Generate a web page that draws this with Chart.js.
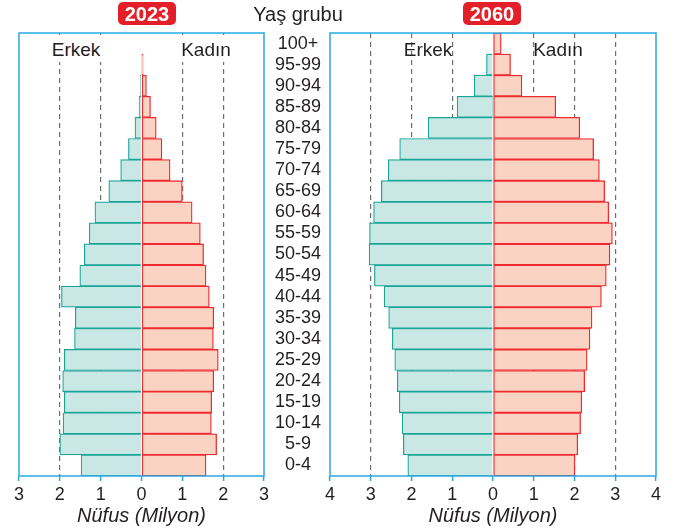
<!DOCTYPE html>
<html lang="tr">
<head>
<meta charset="UTF-8">
<title>Nüfus piramidi 2023 - 2060</title>
<script src="https://cdn.jsdelivr.net/npm/chart.js"></script>
<style>
    body {
        margin: 0;
        background: #fff;
        font-family: "Liberation Sans", Arial, sans-serif;
        color: #231f20;
    }
    #wrap {
        position: relative;
        width: 677px;
        height: 532px;
        overflow: hidden;
    }
    #wrap canvas {
        position: absolute;
        top: 0;
    }
    .badge {
        position: absolute;
        top: 2px;
        width: 58px;
        height: 23px;
        line-height: 24px;
        border-radius: 5px;
        background: #e3202a;
        color: #fff;
        font-weight: bold;
        font-size: 20px;
        text-align: center;
        z-index: 2;
    }
    .txt {
        position: absolute;
        font-size: 19px;
        line-height: 22px;
        z-index: 2;
        text-align: center;
    }
</style>
</head>
<body>
<div id="wrap">
    <canvas id="pyr2023" width="330" height="532" style="left:0"></canvas>
    <canvas id="pyr2060" width="355" height="532" style="left:322px"></canvas>

    <div class="badge" style="left:118px">2023</div>
    <div class="badge" style="left:463px">2060</div>
    <div class="txt" style="left:248px; top:3px; width:100px; font-size:20px">Yaş grubu</div>

    <div class="txt" style="left:46px; top:35px; width:60px; background:#fff; height:27px; line-height:30px">Erkek</div>
    <div class="txt" style="left:176px; top:35px; width:60px; background:#fff; height:27px; line-height:30px">Kadın</div>
    <div class="txt" style="left:398px; top:39px; width:60px">Erkek</div>
    <div class="txt" style="left:528px; top:39px; width:60px">Kadın</div>
</div>

<script>
    // yaş grupları, yukarıdan aşağıya
    const ageGroups = ['100+', '95-99', '90-94', '85-89', '80-84', '75-79', '70-74', '65-69',
        '60-64', '55-59', '50-54', '45-49', '40-44', '35-39', '30-34', '25-29', '20-24',
        '15-19', '10-14', '5-9', '0-4'];

    // milyon kişi
    const male2023 = [0, 0.01, 0.03, 0.06, 0.16, 0.32, 0.51, 0.80, 1.14, 1.28, 1.40, 1.51,
        1.96, 1.62, 1.64, 1.89, 1.93, 1.89, 1.92, 2.00, 1.48];
    const female2023 = [0, 0.04, 0.12, 0.22, 0.36, 0.50, 0.70, 1.00, 1.24, 1.44, 1.52, 1.58,
        1.66, 1.77, 1.76, 1.88, 1.77, 1.72, 1.71, 1.84, 1.58];

    const male2060 = [0, 0.16, 0.46, 0.88, 1.59, 2.29, 2.57, 2.74, 2.93, 3.03, 3.04, 2.91,
        2.67, 2.56, 2.47, 2.41, 2.35, 2.30, 2.23, 2.20, 2.09];
    const female2060 = [0.20, 0.43, 0.71, 1.54, 2.13, 2.47, 2.61, 2.74, 2.84, 2.93, 2.87, 2.78,
        2.66, 2.43, 2.38, 2.31, 2.25, 2.18, 2.15, 2.08, 2.01];

    const BLUE = '#29a9e1';
    const FONT = '"Liberation Sans", Arial, sans-serif';

    // mavi çerçeve
    const boxPlugin = {
        id: 'box',
        afterDraw(chart) {
            const { ctx, chartArea: a } = chart;
            ctx.save();
            ctx.strokeStyle = BLUE;
            ctx.lineWidth = 1.5;
            ctx.strokeRect(a.left, a.top, a.right - a.left, a.bottom - a.top);
            ctx.restore();
        }
    };

    function makePyramid(id, male, female, lim, withAges, padding) {
        const yAxis = withAges ? {
            position: 'right',
            grid: { display: false },
            border: { display: false },
            ticks: {
                autoSkip: false,
                crossAlign: 'center',
                padding: 3,
                color: '#231f20',
                font: { family: FONT, size: 18 }
            },
            afterFit: s => { s.width = 64; }
        } : { display: false };
        yAxis.stacked = true;

        return new Chart(document.getElementById(id), {
            type: 'bar',
            data: {
                labels: ageGroups,
                datasets: [{
                    label: 'Erkek',
                    data: male.map(v => -v),
                    backgroundColor: '#c9e8e5',
                    borderColor: '#1aa596',
                    borderWidth: 1.2,
                    borderSkipped: 'start',
                    barPercentage: 1,
                    categoryPercentage: 1
                }, {
                    label: 'Kadın',
                    data: female,
                    backgroundColor: '#fbd3c2',
                    borderColor: '#ee2a30',
                    borderWidth: 1.3,
                    borderSkipped: false,
                    barPercentage: 1,
                    categoryPercentage: 1
                }]
            },
            options: {
                indexAxis: 'y',
                responsive: false,
                animation: false,
                layout: { padding: padding },
                plugins: {
                    legend: { display: false },
                    tooltip: { enabled: false }
                },
                scales: {
                    x: {
                        stacked: true,
                        min: -lim,
                        max: lim,
                        afterFit: s => { s.height = 56; },
                        grid: {
                            color: c => (c.tick.value === 0 || Math.abs(c.tick.value) === lim) ? 'rgba(0,0,0,0)' : '#6d6e71',
                            lineWidth: 1.2,
                            drawTicks: true,
                            tickLength: 5,
                            tickColor: BLUE,
                            tickWidth: 1.5,
                            tickBorderDash: []
                        },
                        border: { display: false, dash: [5, 4] },
                        ticks: {
                            stepSize: 1,
                            padding: 3,
                            color: '#231f20',
                            font: { family: FONT, size: 18 },
                            callback: v => Math.abs(v)
                        },
                        title: {
                            display: true,
                            text: 'Nüfus (Milyon)',
                            color: '#231f20',
                            font: { family: FONT, size: 20, style: 'italic' },
                            padding: { top: 0, bottom: 4 }
                        }
                    },
                    y: yAxis
                }
            },
            plugins: [boxPlugin]
        });
    }

    makePyramid('pyr2023', male2023, female2023, 3, true, { left: 19, top: 33, right: 2, bottom: 0 });
    makePyramid('pyr2060', male2060, female2060, 4, false, { left: 7, top: 33, right: 21, bottom: 0 });
</script>
</body>
</html>
